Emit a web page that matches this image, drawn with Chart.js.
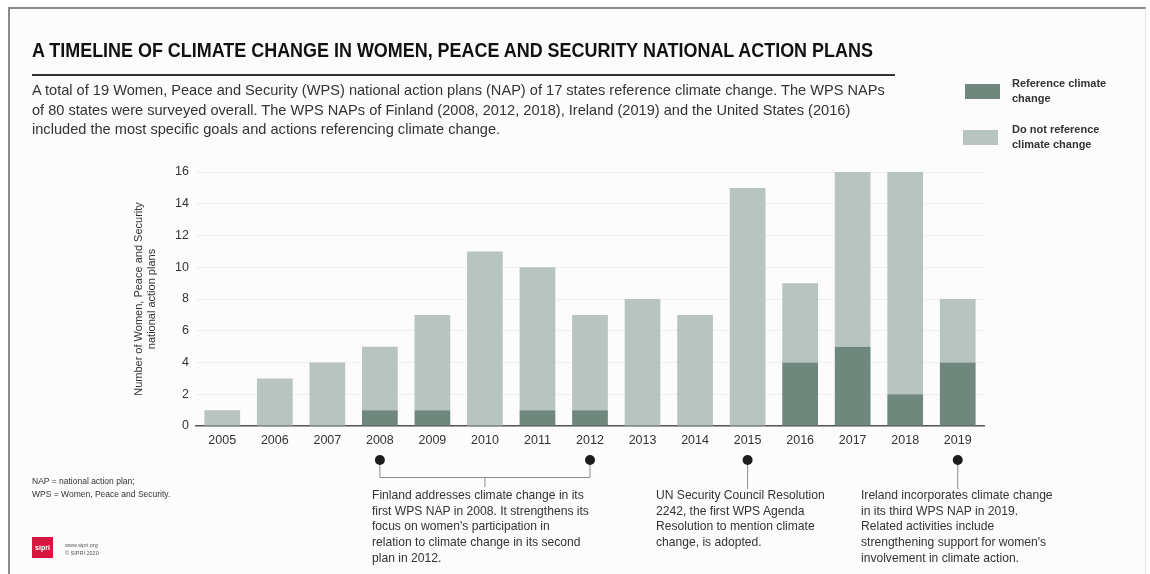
<!DOCTYPE html>
<html lang="en">
<head>
<meta charset="utf-8">
<title>A timeline of climate change in WPS national action plans</title>
<script src="https://cdn.jsdelivr.net/npm/chart.js@4.4.1/dist/chart.umd.min.js"></script>
<style>
  html, body { margin: 0; padding: 0; background: #fff; }
  body { width: 1150px; height: 574px; position: relative; overflow: hidden; font-family: "Liberation Sans", Arial, sans-serif; color: #333; }
  #frame { position: absolute; left: 8px; top: 7px; width: 1135px; height: 580px; border-top: 2px solid #8a8a8a; border-left: 2px solid #8a8a8a; border-right: 1px solid #e2e2e2; background: #fcfcfc; }
  #chart { position: absolute; left: 0; top: 0; }
  .abs { position: absolute; }
  #title { left: 32px; top: 39px; font-weight: bold; font-size: 20px; color: #111; white-space: nowrap; transform: scaleX(0.897); transform-origin: 0 0; }
  #rule { left: 32px; top: 74px; width: 863px; height: 2px; background: #333; }
  #sub { left: 32px; top: 81px; font-size: 14.6px; line-height: 19.5px; color: #333; white-space: nowrap; }
  .leg { font-size: 11px; font-weight: bold; line-height: 15px; color: #333; }
  .sw { width: 35px; height: 15px; }
  .note { font-size: 12.1px; line-height: 15.7px; color: #333; white-space: nowrap; }
  #foot { left: 32px; top: 475px; font-size: 8.5px; line-height: 13px; color: #333; }
  #logo { left: 32px; top: 537px; width: 21px; height: 21px; background: #d6173f; color: #fff; font-size: 7px; font-weight: bold; text-align: center; line-height: 21px; }
  #logotxt { left: 65px; top: 541px; font-size: 5.5px; line-height: 8px; color: #555; }
</style>
</head>
<body>
<div id="frame"></div>
<canvas id="chart" width="1150" height="574"></canvas>

<div class="abs" id="title">A TIMELINE OF CLIMATE CHANGE IN WOMEN, PEACE AND SECURITY NATIONAL ACTION PLANS</div>
<div class="abs" id="rule"></div>
<div class="abs" id="sub">A total of 19 Women, Peace and Security (WPS) national action plans (NAP) of 17 states reference climate change. The WPS NAPs<br>of 80 states were surveyed overall. The WPS NAPs of Finland (2008, 2012, 2018), Ireland (2019) and the United States (2016)<br>included the most specific goals and actions referencing climate change.</div>

<div class="abs sw" style="left:965px;top:84px;background:#6f877d"></div>
<div class="abs leg" style="left:1012px;top:76px">Reference climate<br>change</div>
<div class="abs sw" style="left:963px;top:130px;background:#b8c4bf"></div>
<div class="abs leg" style="left:1012px;top:122px">Do not reference<br>climate change</div>

<div class="abs note" style="left:372px;top:488px">Finland addresses climate change in its<br>first WPS NAP in 2008. It strengthens its<br>focus on women's participation in<br>relation to climate change in its second<br>plan in 2012.</div>
<div class="abs note" style="left:656px;top:488px">UN Security Council Resolution<br>2242, the first WPS Agenda<br>Resolution to mention climate<br>change, is adopted.</div>
<div class="abs note" style="left:861px;top:488px">Ireland incorporates climate change<br>in its third WPS NAP in 2019.<br>Related activities include<br>strengthening support for women's<br>involvement in climate action.</div>

<div class="abs" id="foot">NAP = national action plan;<br>WPS = Women, Peace and Security.</div>
<div class="abs" id="logo">sipri</div>
<div class="abs" id="logotxt">www.sipri.org<br>© SIPRI 2020</div>

<script>
  const years = ['2005', '2006', '2007', '2008', '2009', '2010', '2011', '2012', '2013', '2014', '2015', '2016', '2017', '2018', '2019'];
  const referenceClimate = [0, 0, 0, 1, 1, 0, 1, 1, 0, 0, 0, 4, 5, 2, 4];
  const noReference = [1, 3, 4, 4, 6, 11, 9, 6, 8, 7, 15, 5, 11, 14, 4];
  const yTicks = [0, 2, 4, 6, 8, 10, 12, 14, 16];
  const yTitle = ['Number of Women, Peace and Security', 'national action plans'];

  // timeline markers under the axis: single years, plus the 2008-2012 bracket
  const markerYears = ['2015', '2019'];
  const bracketYears = ['2008', '2012'];

  const darkGreen = '#6f877d';
  const lightGreen = '#b8c4bf';

  const timeline = {
    id: 'timeline',
    afterDraw(chart) {
      const ctx = chart.ctx;
      const x = chart.scales.x;
      const dotY = 460;
      ctx.save();
      ctx.strokeStyle = '#8c8c8c';
      ctx.lineWidth = 1;

      const a = x.getPixelForValue(years.indexOf(bracketYears[0]));
      const b = x.getPixelForValue(years.indexOf(bracketYears[1]));
      ctx.beginPath();
      ctx.moveTo(a, dotY); ctx.lineTo(a, 477.5); ctx.lineTo(b, 477.5); ctx.lineTo(b, dotY);
      ctx.moveTo((a + b) / 2, 477.5); ctx.lineTo((a + b) / 2, 487);
      ctx.stroke();

      markerYears.forEach(y => {
        const px = x.getPixelForValue(years.indexOf(y));
        ctx.beginPath();
        ctx.moveTo(px, dotY); ctx.lineTo(px, 489);
        ctx.stroke();
      });

      ctx.fillStyle = '#1e1e1e';
      bracketYears.concat(markerYears).forEach(y => {
        const px = x.getPixelForValue(years.indexOf(y));
        ctx.beginPath();
        ctx.arc(px, dotY, 5, 0, Math.PI * 2);
        ctx.fill();
      });
      ctx.restore();
    }
  };

  new Chart(document.getElementById('chart'), {
    type: 'bar',
    data: {
      labels: years,
      datasets: [{
        label: 'Reference climate change',
        data: referenceClimate,
        backgroundColor: darkGreen,
        barPercentage: 0.68,
        categoryPercentage: 1
      }, {
        label: 'Do not reference climate change',
        data: noReference,
        backgroundColor: lightGreen,
        barPercentage: 0.68,
        categoryPercentage: 1
      }]
    },
    options: {
      responsive: false,
      animation: false,
      layout: { padding: { left: 124, right: 166, top: 172, bottom: 114 } },
      plugins: {
        legend: { display: false },
        tooltip: { enabled: false }
      },
      scales: {
        x: {
          stacked: true,
          grid: { display: false, drawTicks: false },
          border: { color: '#555', width: 1.5 },
          ticks: { color: '#333', font: { family: 'Liberation Sans', size: 12.5 }, padding: 7 },
          afterFit(scale) { scale.height = 34; }
        },
        y: {
          stacked: true,
          min: 0,
          max: 16,
          afterBuildTicks(scale) { scale.ticks = yTicks.map(v => ({ value: v })); },
          grid: { color: '#efefef', drawTicks: false },
          border: { display: false },
          ticks: { color: '#333', font: { family: 'Liberation Sans', size: 12.5 }, padding: 7 },
          title: {
            display: true,
            text: yTitle,
            color: '#333',
            font: { family: 'Liberation Sans', size: 11 },
            padding: { top: 8, bottom: 0 }
          },
          afterFit(scale) { scale.width = 72; }
        }
      }
    },
    plugins: [timeline]
  });
</script>
</body>
</html>
